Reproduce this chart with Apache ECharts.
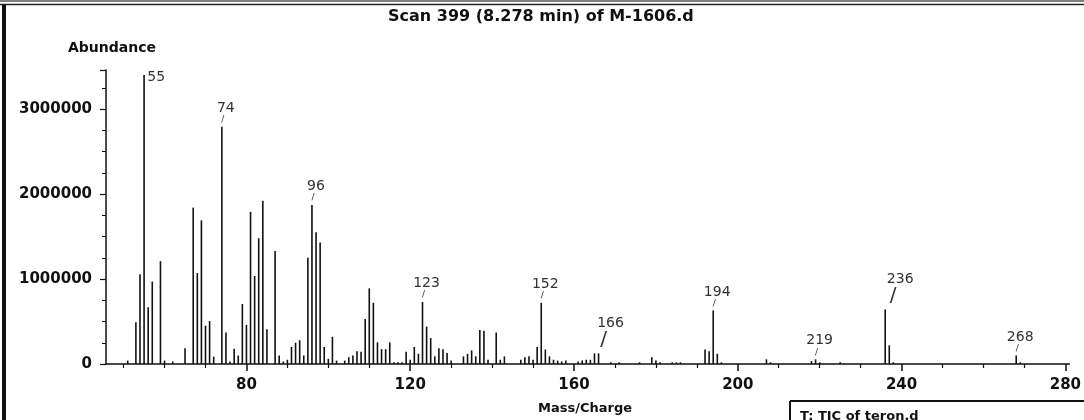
<!DOCTYPE html>
<html><head><meta charset="utf-8">
<script src="https://cdn.jsdelivr.net/npm/echarts@6/dist/echarts.min.js"></script>
<style>html,body{margin:0;padding:0;background:#fff}#c{width:1084px;height:420px}</style>
</head><body><div id="c"></div>
<script>
// m/z values and abundances
const massCharge = [51,53,54,55,56,57,59,60,62,65,67,68,69,70,71,72,74,75,76,77,78,79,80,81,82,83,84,85,87,88,89,90,91,92,93,94,95,96,97,98,99,100,101,102,104,105,106,107,108,109,110,111,112,113,114,115,116,117,118,119,120,121,122,123,124,125,126,127,128,129,130,133,134,135,136,137,138,139,141,142,143,147,148,149,150,151,152,153,154,155,156,157,158,161,162,163,164,165,166,169,171,176,179,180,181,184,185,186,192,193,194,195,196,207,208,218,219,220,225,236,237,238,268,269];
const abundance = [40000,490000,1055000,3400000,667000,970000,1210000,40000,30000,185000,1840000,1070000,1690000,450000,505000,86000,2790000,370000,30000,180000,100000,706000,460000,1790000,1035000,1480000,1920000,410000,1330000,100000,30000,50000,200000,250000,280000,100000,1250000,1870000,1550000,1430000,200000,60000,320000,40000,40000,80000,100000,150000,145000,530000,890000,720000,255000,175000,175000,255000,20000,20000,20000,145000,50000,200000,120000,730000,440000,305000,90000,185000,175000,130000,40000,90000,120000,160000,90000,400000,390000,50000,370000,50000,90000,50000,80000,90000,50000,200000,720000,170000,90000,50000,40000,30000,40000,30000,40000,50000,50000,125000,125000,20000,20000,20000,80000,40000,20000,20000,20000,20000,170000,150000,630000,120000,20000,55000,20000,35000,55000,20000,20000,640000,220000,20000,100000,20000];
const labeledPeaks = [55,74,96,123,152,166,194,219,236,268];
const xTickLabels = [80,120,160,200,240,280];
const xMinorTicks = [50,60,70,90,100,110,130,140,150,170,180,190,210,220,230,250,260,270];
const yTickLabels = [0,1000000,2000000,3000000];

const FONT = 'DejaVu Sans';
const chart = echarts.init(document.getElementById('c'), null, {renderer:'canvas'});

function peakLabel(mz){
  const base = {show:true, position:'top', distance:3, offset:[4,0], color:'#333', fontFamily:FONT,
    formatter: String(mz) + '\n{s|/}',
    fontSize:14, lineHeight:15,
    rich:{s:{fontSize:9, lineHeight:8, color:'#333', fontFamily:FONT, padding:[0,6,0,0]}}};
  if (mz === 55) {
    return {show:true, position:[4,2], align:'left', verticalAlign:'middle', color:'#333', fontFamily:FONT, fontSize:14, formatter:'55'};
  }
  if (mz === 166 || mz === 236) {
    base.offset = [mz === 166 ? 12 : 15, 0];
    base.distance = 5;
    base.rich.s = {fontSize:20, lineHeight:18, color:'#333', fontFamily:FONT, padding:[0,14,0,0]};
  }
  return base;
}

const barData = massCharge.map((m,i)=>{
  const item = {value:[m, abundance[i]]};
  if (labeledPeaks.includes(m)) item.label = peakLabel(m);
  return item;
});

const xMin = 45.7, xMax = 281;
chart.setOption({
  animation:false,
  backgroundColor:'#fff',
  title:[
    {text:'Scan 399 (8.278 min) of M-1606.d', left:383, top:4, textStyle:{fontFamily:FONT, fontSize:16, fontWeight:'bold', color:'#111'}},
    {text:'Abundance', left:63, top:36, textStyle:{fontFamily:FONT, fontSize:14, fontWeight:'bold', color:'#111'}},
    {text:'Mass/Charge', left:533, top:397, textStyle:{fontFamily:FONT, fontSize:13, fontWeight:'bold', color:'#111'}},
    {text:'T: TIC of teron.d', left:795, top:405, textStyle:{fontFamily:FONT, fontSize:13, fontWeight:'bold', color:'#111'}}
  ],
  graphic:[
    {type:'rect', shape:{x:2, y:4, width:4, height:420}, style:{fill:'#111'}},
    {type:'line', shape:{x1:0, y1:1, x2:1084, y2:1}, style:{stroke:'#555', lineWidth:1.5}},
    {type:'line', shape:{x1:0, y1:4.5, x2:1084, y2:4.5}, style:{stroke:'#222', lineWidth:1.5}},
    {type:'line', shape:{x1:790, y1:401, x2:1084, y2:401}, style:{stroke:'#111', lineWidth:2}},
    {type:'line', shape:{x1:790, y1:401, x2:790, y2:420}, style:{stroke:'#111', lineWidth:2}}
  ],
  grid:{left:106, right:14, top:70, bottom:56, containLabel:false},
  xAxis:[
    {type:'value', min:xMin, max:xMax, position:'bottom',
      axisLine:{show:true, lineStyle:{color:'#111', width:1.5}},
      axisTick:{show:true, customValues:xTickLabels, length:7, lineStyle:{color:'#111', width:1.5}},
      axisLabel:{customValues:xTickLabels, margin:14, fontFamily:FONT, fontSize:15, fontWeight:'bold', color:'#111'},
      splitLine:{show:false}},
    {type:'value', min:xMin, max:xMax, position:'bottom',
      axisLine:{show:false},
      axisTick:{show:true, customValues:xMinorTicks, length:4, lineStyle:{color:'#111', width:1.2}},
      axisLabel:{show:false}, splitLine:{show:false}}
  ],
  yAxis:{type:'value', min:0, max:3459000, interval:1000000,
    axisLine:{show:true, lineStyle:{color:'#111', width:1.5}},
    axisTick:{show:true, length:6, lineStyle:{color:'#111', width:1.2}},
    minorTick:{show:true, splitNumber:4, length:4, lineStyle:{color:'#111', width:1}},
    axisLabel:{margin:14, showMaxLabel:false, fontFamily:FONT, fontSize:15, fontWeight:'bold', color:'#111', formatter:v=>String(v)},
    splitLine:{show:false}},
  series:[{type:'bar', xAxisIndex:0, data:barData, barWidth:1.6, itemStyle:{color:'#111'}, label:{show:false}}]
});
</script></body></html>
